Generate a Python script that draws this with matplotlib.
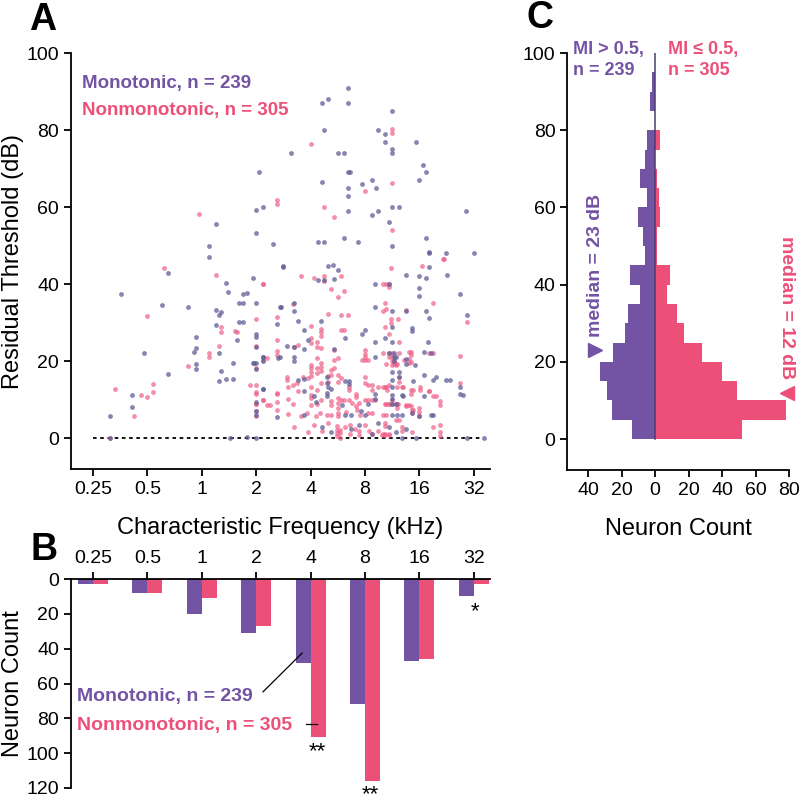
import matplotlib
matplotlib.use("Agg")
import matplotlib.pyplot as plt

plt.rcParams['font.family'] = ['Liberation Sans', 'DejaVu Sans']

PURPLE = '#7353a3'
PINK = '#ec5079'
DOT_PURPLE = '#5d5d96'
DOT_PINK = '#ee5f88'

# ---- panel A: (CF in kHz, residual threshold in dB)
mono_points = [
    (6.4, 91), (6.4, 87), (5.0, 88), (4.6, 87), (4.75, 80), (3.1, 74), (5.66, 74), (6.1, 74),
    (6.4, 69), (6.6, 69), (2.07, 69), (4.6, 66.5), (6.4, 65), (6.4, 63), (7.7, 66), (8.7, 67),
    (9.2, 65), (9.4, 80), (10.3, 79), (11.3, 85), (10.3, 77), (11.3, 75), (11.3, 74), (15.3, 77),
    (16.8, 71), (17.4, 69), (15.9, 67), (6.4, 59), (11.3, 60), (12.3, 60), (8.7, 58), (9.4, 59),
    (10.9, 56), (29, 59), (4.4, 51), (4.75, 51), (6.1, 52), (7.3, 51), (11.3, 50), (17.4, 52),
    (18.0, 48), (22.5, 48), (32, 48),
    (0.356, 37.5), (1.2, 55.6), (1.09, 50), (1.09, 47), (0.65, 43), (0.6, 34.6), (0.84, 34),
    (0.48, 22), (0.65, 16.7), (0.41, 11.3), (0.41, 8.2), (0.31, 5.8), (0.93, 19.3), (0.93, 18),
    (0.9, 22.4), (0.93, 23.5), (0.93, 26.3), (1.2, 33.3), (1.25, 32), (1.28, 32.8), (1.36, 40.3),
    (1.4, 38), (1.2, 29.4), (1.25, 22.2), (1.25, 14.9), (1.28, 17.5), (1.36, 15.4), (1.48, 19.6),
    (1.48, 15.4), (1.56, 25.6), (1.6, 30.2), (1.6, 35.1), (1.68, 37.5), (1.92, 41.6), (2.0, 59.3),
    (2.0, 53.3), (2.17, 60), (2.0, 35), (2.0, 27), (2.0, 26.3), (2.0, 19.6), (1.95, 19.6),
    (2.0, 9.5), (2.17, 12.8), (2.17, 21), (2.48, 50.4), (2.81, 44.5), (2.74, 34), (2.6, 29.7),
    (2.65, 20.9), (2.96, 24), (0.31, 0), (1.43, 0), (1.77, 0.3), (2.0, 0), (2.0, 7), (2.0, 6),
    (2.83, 44.7), (5.0, 44.6), (5.3, 45), (5.66, 43.7), (1.78, 37.7), (1.68, 35.1), (2.71, 34),
    (3.25, 35.1), (3.25, 32.9), (4.38, 41), (4.76, 41), (5.4, 41.3), (9.1, 40), (10.8, 40),
    (13.5, 42.4), (16, 42), (17.4, 41.5), (18.1, 44.4), (18.1, 48.4), (16, 39), (16, 36.8),
    (17.4, 32.9), (9.1, 34), (11.3, 32.9), (13.4, 33.1), (18.1, 31.2), (1.68, 30.1), (3.39, 30.3),
    (4.55, 30.3), (3.69, 28.2), (3.86, 25.6), (7.7, 27.1), (8.0, 28), (6.2, 26), (14.6, 28.7),
    (14.6, 27.9), (9.1, 25.1), (17.9, 25.1), (2.0, 23.8), (3.25, 23.8), (3.69, 23.2), (5.4, 23.1),
    (2.71, 21), (3.25, 21), (3.25, 20.1), (2.19, 21), (2.19, 20.1), (1.93, 19.5), (2.0, 18),
    (10.8, 22.1), (11.5, 22.1), (11.5, 21), (11.5, 20.1), (9.1, 21), (13.5, 20.5), (13.5, 19.2),
    (17, 22.5), (18.6, 22.1), (4.9, 15.8), (4.9, 14.3), (5.0, 13.4), (3.39, 15.2), (3.69, 15.4),
    (6.2, 14.9), (6.5, 14.9), (6.5, 14), (11.3, 17.2), (12.4, 15.8), (17, 16.5), (14.7, 14.9),
    (2.19, 12.8), (3.69, 12.2), (4.2, 10.9), (4.9, 11.7), (4.9, 10.9), (5.2, 12.8), (8.3, 8.9),
    (9.1, 11.5), (9.1, 10.2), (11.3, 11.3), (11.3, 10.2), (11.3, 8.9), (11.8, 8.9), (13, 11),
    (17, 10.9), (4.3, 9.4), (6.0, 8.7), (6.2, 6.1), (6.7, 6.1), (7.6, 7), (8.0, 6.1), (11.3, 6.1),
    (12.0, 6.1), (14.6, 6.5), (16, 5.8), (18.6, 6.1), (3.69, 5.9), (2.6, 5.4),
    (22.6, 42.4), (26.9, 37.5), (29.2, 32), (11.3, 29), (10.3, 26), (11.3, 25.1), (11.8, 21),
    (15.2, 18.9), (18.9, 15), (19.8, 15.9), (22.4, 15.2), (23.5, 15), (26.9, 13.4), (26.9, 11.5),
    (28, 11.3), (12.8, 11.1), (12.3, 17.2), (11.3, 15.2), (11.3, 13.4), (18.9, 5.9), (12.8, 5.9),
    (12.8, 0), (15.3, 0), (29.2, 0), (36.5, 0), (9.4, 4),
    (5.2, 1.5), (6.7, 2.5), (7.4, 3.5), (8.7, 1), (10.8, 3), (11.8, 1.5), (13.4, 2.5), (4.6, 3),
]

nonmono_points = [
    (4.0, 76.4), (8.0, 64.2), (11.3, 80.3), (11.3, 79.3), (11.3, 66.3), (4.75, 60.1), (5.4, 57.5),
    (11.3, 54.1), (21.8, 46.6),
    (0.97, 58.2), (0.62, 44.2), (0.5, 31.8), (0.33, 12.8), (0.46, 11.3), (0.5, 10.8), (0.54, 14.1),
    (0.54, 12.1), (0.42, 5.8), (0.84, 18.8), (1.09, 22.2), (1.09, 21.1), (1.2, 42.4), (1.28, 28.9),
    (1.28, 27.6), (1.25, 24), (1.52, 27.9), (1.56, 27.6), (2.17, 40.1), (2.0, 31), (2.0, 24),
    (2.0, 18.3), (2.0, 13.9), (2.0, 12.1), (2.0, 7.1), (2.0, 5.8), (2.17, 10), (2.38, 8.7),
    (2.3, 20.9), (2.17, 20.4), (2.6, 61.9), (2.6, 60.8), (2.6, 31.5), (2.6, 25.6), (2.6, 22.7),
    (2.6, 11.8), (2.6, 9.5), (2.6, 7.4), (0.31, 0), (1.85, 13.9), (2.0, 8.9),
    (2.19, 40), (3.54, 42), (4.2, 41.5), (4.76, 42), (4.76, 40.9), (5.9, 42.2), (5.2, 38.7),
    (5.65, 36.6), (6.15, 38.1), (10.4, 40.1), (10, 40.1), (11.2, 44.1), (16.6, 44.7), (3.2, 34.9),
    (4.96, 32.3), (5.9, 32.1), (6.4, 32.1), (10.4, 33.5), (10, 33.1), (18.9, 35.1), (11.2, 31),
    (11.2, 30), (12.2, 31), (4.55, 28.3), (4.55, 27.5), (4.55, 26.6), (4.35, 24.9), (5.9, 28),
    (6.15, 28), (4.0, 29.2), (4.0, 24.7), (4.35, 23.8), (4.0, 26), (4.55, 23.4), (5.4, 23),
    (2.6, 21.7), (3.25, 23.8), (3.39, 24.3), (4.35, 20.8), (5.4, 20.4), (5.7, 20.8), (4.55, 19.5),
    (4.55, 18.5), (4.55, 17.5), (4.0, 19.1), (4.0, 18.2), (4.0, 17.1), (4.0, 16.1), (4.35, 18.2),
    (4.35, 16.9), (5.2, 17.8), (5.2, 16.5), (5.4, 18.2), (8.0, 23), (8.0, 21.9), (8.0, 21.1),
    (8.0, 20.2), (7.7, 20.2), (8.3, 20.2), (10, 22.1), (10.4, 19.2), (10.8, 21), (11.5, 20.1),
    (11.5, 19.2), (12.0, 19.2), (13.2, 20.4), (14.4, 22.5), (14.4, 21.6), (14.4, 19.9),
    (2.95, 16), (2.95, 15), (3.0, 13.4), (3.2, 13.9), (3.38, 14.3), (3.39, 12.2), (3.65, 16),
    (3.86, 15.6), (4.0, 13.4), (4.0, 11.3), (4.0, 10.4), (4.35, 12.6), (4.55, 14.3), (4.96, 16.2),
    (4.96, 14.7), (5.7, 16.5), (5.9, 15.6), (5.7, 14.7), (6.5, 13.4), (6.5, 12.6), (7.1, 11.5),
    (7.1, 10.6), (8.0, 15.8), (8.0, 14.3), (8.3, 13.9), (8.7, 13.9), (9.4, 13.4), (8.7, 12.6),
    (10.4, 13.4), (10.6, 12.6), (12.0, 13.4), (12.9, 13.4), (14.4, 12.6), (14.4, 11.5),
    (16.2, 13.4), (16.2, 12.6), (14.8, 12.6), (18.1, 12.2), (2.0, 11.5), (2.0, 9), (2.19, 9.8),
    (2.3, 8.7), (2.6, 11.5), (3.0, 10.2), (3.2, 8.9), (4.0, 8.7), (4.35, 8.9), (4.55, 9.8),
    (5.2, 9.6), (5.2, 8.7), (5.7, 10.4), (5.7, 9.1), (5.7, 7.8), (5.9, 10), (6.15, 10), (6.5, 9.8),
    (6.8, 9.1), (5.7, 6.5), (5.7, 5.7), (7.1, 8.3), (7.4, 9.1), (8.0, 10), (8.3, 10), (8.7, 10),
    (9.1, 10), (10.4, 8.9), (10.8, 8.9), (12.0, 8.9), (12.2, 8.9), (12.0, 7.8), (13.5, 8.3),
    (14.4, 8.3), (14.8, 7.4), (3.0, 6.4), (3.55, 5.7), (3.8, 6.5), (4.3, 5.7), (4.5, 6.5),
    (4.9, 5.9), (5.2, 5.9), (6.3, 6.7), (7.2, 7.4), (7.5, 6.1), (8.3, 6.5), (8.7, 6.5), (10, 5.9),
    (10.4, 5.9),
    (21.7, 46.5), (10.8, 40.1), (10.8, 39.2), (10.3, 35.1), (13.4, 33.3), (29.2, 30.1), (10.3, 29),
    (10.8, 27), (12.3, 25.1), (18.1, 22.1), (18.9, 22.1), (26.9, 21.4), (10.8, 22.1), (11.3, 22.1),
    (12.3, 22.1), (14, 22.5), (11.3, 21), (11.3, 20.1), (11.3, 19.1), (11.8, 19.1), (14, 20.5),
    (14, 19.5), (26.9, 14.3), (18.1, 12.2), (18.9, 10.9), (19.8, 10.9), (20.7, 9.6), (20.7, 8.7),
    (20.7, 3.5), (20.7, 1.5), (20.7, 0.6), (18.9, 2.9), (16, 7.8), (16, 6.7), (16, 5.8),
    (14.6, 7.4), (14.6, 6.5), (14.6, 1.5), (12.8, 13.3), (12.3, 16), (12.3, 14.7), (10.8, 13.9),
    (10.3, 13.4), (10, 13.4), (11.3, 9), (11.8, 9), (11.3, 10), (10.8, 9), (10.3, 9), (13.4, 8.7),
    (14, 8.7), (11.8, 4.8), (12.3, 4.8), (10.3, 3.9), (10.3, 3.1), (12.8, 2.9), (12.8, 1.8),
    (10, 1.2), (10.3, 1.2), (10.8, 1.2),
    (3.86, 1.6), (3.25, 2.9), (5.85, 0), (5.58, 3.1), (5.58, 2.2), (5.58, 1.3), (5.58, 0.7),
    (5.8, 2.2), (5.8, 1.3), (7.36, 2), (7.36, 0.9), (9.4, 1.8), (9.9, 0.9), (10.3, 0.9),
    (10.8, 0.9), (6.2, 3), (6.6, 3.5), (7.0, 2.5), (8.0, 3.5), (8.4, 2), (8.7, 1.2), (6.6, 1),
    (4.6, 2), (4.2, 3.5), (5.0, 4),
]

# ---- panel B: neuron counts per octave CF band
octave_cf = [0.25, 0.5, 1, 2, 4, 8, 16, 32]
octave_labels = ['0.25', '0.5', '1', '2', '4', '8', '16', '32']
mono_counts = [3, 8, 20, 31, 48, 72, 47, 10]
nonmono_counts = [3, 8, 11, 27, 91, 116, 46, 3]

# ---- panel C: residual threshold histograms (5 dB bins from 0)
bin_lo = [0, 5, 10, 15, 20, 25, 30, 35, 40, 45, 50, 55, 60, 65, 70, 75, 80, 85, 90]
mono_hist = [14, 26, 29, 33, 25, 18, 16, 9, 15, 6, 7, 10, 5, 9, 6, 5, 0, 3, 2]
nonmono_hist = [52, 78, 49, 40, 28, 17, 13, 7, 9, 1, 1, 3, 2, 1, 0, 3, 0, 0, 0]
mono_median = 23
nonmono_median = 12

fig = plt.figure(figsize=(8, 7.97), dpi=100)

TICK_FS = 14
LABEL_FS = 17


def style(ax):
    for s in ['top', 'right']:
        ax.spines[s].set_visible(False)
    for s in ax.spines.values():
        s.set_linewidth(1.3)
    ax.tick_params(labelsize=TICK_FS, width=1.3, length=5)


# ---------------- A
axA = fig.add_axes([0.0888, 0.4115, 0.5237, 0.522])
style(axA)
axA.set_xscale('log', base=2)
axA.set_xlim(0.189, 39.3)
axA.set_ylim(-8, 100)
axA.plot([0.25, 36], [0, 0], color='black', lw=1.3, ls=(0, (2, 2)), zorder=1)
mx, my = zip(*mono_points)
nx, ny = zip(*nonmono_points)
axA.scatter(nx, ny, s=12, color=DOT_PINK, alpha=0.7, linewidths=0, zorder=2)
axA.scatter(mx, my, s=12, color=DOT_PURPLE, alpha=0.75, linewidths=0, zorder=3)
axA.set_xticks(octave_cf)
axA.set_xticklabels(octave_labels)
axA.minorticks_off()
axA.set_yticks(range(0, 101, 20))
axA.set_xlabel('Characteristic Frequency (kHz)', fontsize=LABEL_FS, labelpad=14)
axA.set_ylabel('Residual Threshold (dB)', fontsize=LABEL_FS, labelpad=2)
axA.text(0.218, 92.2, 'Monotonic, n = 239', color=PURPLE, fontsize=13.5,
         weight='bold', va='center')
axA.text(0.218, 85.2, 'Nonmonotonic, n = 305', color=PINK, fontsize=13.5,
         weight='bold', va='center')

# ---------------- B
axB = fig.add_axes([0.0888, 0.0113, 0.5237, 0.2622])
for s in ['bottom', 'right']:
    axB.spines[s].set_visible(False)
for s in axB.spines.values():
    s.set_linewidth(1.3)
axB.tick_params(labelsize=TICK_FS, width=1.3, length=5)
axB.xaxis.tick_top()
axB.set_xscale('log', base=2)
axB.set_xlim(0.189, 39.3)
axB.set_ylim(120, 0)
bw = 0.276  # bar width in octaves
for f, m, n in zip(octave_cf, mono_counts, nonmono_counts):
    lo = f * 2 ** -bw
    hi = f * 2 ** bw
    axB.bar(lo, m, width=f - lo, align='edge', color=PURPLE, linewidth=0)
    axB.bar(f, n, width=hi - f, align='edge', color=PINK, linewidth=0)
axB.set_xticks(octave_cf)
axB.set_xticklabels(octave_labels)
axB.minorticks_off()
axB.set_yticks(range(0, 121, 20))
axB.set_ylabel('Neuron Count', fontsize=LABEL_FS, labelpad=2)
axB.text(0.204, 67.7, 'Monotonic, n = 239', color=PURPLE, fontsize=14,
         weight='bold', va='center')
axB.text(0.204, 84.0, 'Nonmonotonic, n = 305', color=PINK, fontsize=14,
         weight='bold', va='center')
axB.plot([2.18, 3.59], [64.8, 42.5], color='black', lw=0.9)
axB.plot([3.77, 4.34], [83.2, 83.2], color='black', lw=0.9)
axB.text(4.34, 99, '**', fontsize=16, ha='center', va='center')
axB.text(8.6, 117.8, '**', fontsize=16, ha='center', va='top', clip_on=False)
axB.text(32.6, 19, '*', fontsize=16, ha='center', va='center')

# ---------------- C
axC = fig.add_axes([0.709, 0.4103, 0.2775, 0.5232])
style(axC)
axC.set_xlim(-52.5, 80)
axC.set_ylim(-8, 100)
axC.barh(bin_lo, [-c for c in mono_hist], height=5, align='edge', color=PURPLE, linewidth=0)
axC.barh(bin_lo, nonmono_hist, height=5, align='edge', color=PINK, linewidth=0)
axC.plot([0, 0], [0, 100], color='#4a3c70', lw=1.1)
axC.set_xticks([-40, -20, 0, 20, 40, 60, 80])
axC.set_xticklabels(['40', '20', '0', '20', '40', '60', '80'])
axC.set_yticks(range(0, 101, 20))
axC.set_xlabel('Neuron Count', fontsize=LABEL_FS, labelpad=14)
axC.text(-48.8, 98.2, 'MI > 0.5,\nn = 239', color=PURPLE, fontsize=13,
         weight='bold', va='center', linespacing=1.25)
axC.text(7.7, 98.2, 'MI \u2264 0.5,\nn = 305', color=PINK, fontsize=13,
         weight='bold', va='center', linespacing=1.25)
# median markers and labels
axC.plot([-35.7], [mono_median], marker='>', ms=10, color=PURPLE, clip_on=False)
axC.plot([78.6], [nonmono_median], marker='<', ms=10, color=PINK, clip_on=False)
axC.text(-35.7, mono_median + 3.5, 'median = 23 dB', color=PURPLE, fontsize=14,
         weight='bold', rotation=90, ha='center', va='bottom')
axC.text(78.6, nonmono_median + 3.5, 'median = 12 dB', color=PINK, fontsize=14,
         weight='bold', rotation=-90, ha='center', va='bottom', clip_on=False)

# panel letters
fig.text(0.036, 0.9624, 'A', fontsize=27, weight='bold')
fig.text(0.038, 0.2974, 'B', fontsize=27, weight='bold')
fig.text(0.658, 0.9649, 'C', fontsize=27, weight='bold')

fig.savefig('out.png', dpi=100)
